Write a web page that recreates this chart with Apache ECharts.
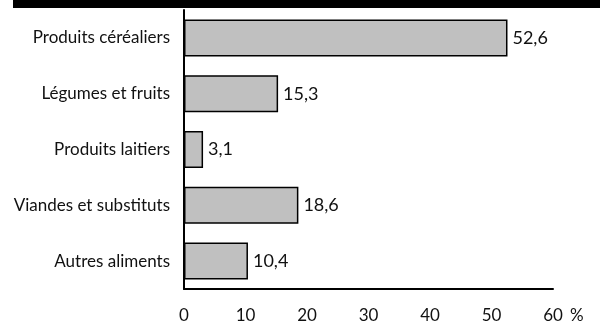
<!DOCTYPE html>
<html>
<head>
<meta charset="utf-8">
<script src="https://cdn.jsdelivr.net/npm/echarts@6/dist/echarts.min.js"></script>
<style>
  html, body { margin: 0; padding: 0; background: #fff; }
  #chart { width: 600px; height: 324px; }
</style>
</head>
<body>
<div id="chart"></div>
<script>
// Catégories (de haut en bas) et parts en %
var categories = ['Produits céréaliers', 'Légumes et fruits', 'Produits laitiers', 'Viandes et substituts', 'Autres aliments'];
var valeurs = [52.6, 15.3, 3.1, 18.6, 10.4];
var ticksX = [0, 10, 20, 30, 40, 50, 60];

var police = 'Lato';
var chart = echarts.init(document.getElementById('chart'));

var option = {
  animation: false,
  textStyle: { fontFamily: police },
  // bande noire en haut
  graphic: [
    {
      type: 'rect',
      shape: { x: 13, y: 0, width: 587, height: 8 },
      style: { fill: '#000' }
    }
  ],
  grid: { left: 184, right: 47, top: 10, bottom: 34 },
  xAxis: {
    type: 'value',
    min: ticksX[0],
    max: ticksX[ticksX.length - 1],
    interval: 10,
    name: '%',
    nameLocation: 'end',
    nameGap: 17,
    nameTextStyle: { color: '#111', fontSize: 17, fontFamily: police, verticalAlign: 'top', padding: [18, 0, 0, 0] },
    axisLine: { show: true, lineStyle: { color: '#000', width: 2 } },
    axisTick: { show: false },
    splitLine: { show: false },
    axisLabel: { color: '#111', fontSize: 17, margin: 18, fontFamily: police }
  },
  yAxis: {
    type: 'category',
    data: categories,
    inverse: true,
    axisLine: { show: true, lineStyle: { color: '#000', width: 2 } },
    axisTick: { show: false },
    axisLabel: { color: '#111', fontSize: 17, margin: 14, fontFamily: police }
  },
  series: [
    {
      type: 'bar',
      data: valeurs,
      barWidth: 37,
      itemStyle: { color: '#c0c0c0', borderColor: '#000', borderWidth: 1.5 },
      label: {
        show: true,
        position: 'right',
        distance: 5,
        color: '#111',
        fontSize: 18,
        fontFamily: police,
        formatter: function (p) { return String(p.value).replace('.', ','); }
      }
    }
  ]
};

chart.setOption(option);
</script>
</body>
</html>
